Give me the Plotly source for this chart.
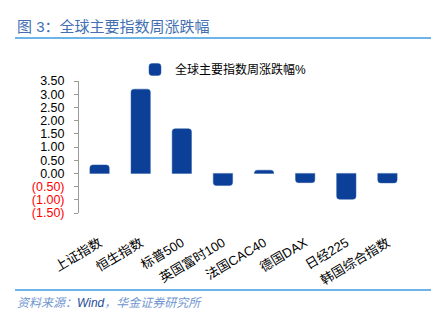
import plotly.graph_objects as go

categories = ["上证指数", "恒生指数", "标普500", "英国富时100", "法国CAC40", "德国DAX", "日经225", "韩国综合指数"]
values = [0.32, 3.19, 1.69, -0.46, 0.12, -0.35, -0.98, -0.36]
series_name = "全球主要指数周涨跌幅%"
ytick_vals = [3.5, 3.0, 2.5, 2.0, 1.5, 1.0, 0.5, 0.0, -0.5, -1.0, -1.5]

def fmt(v):
    if v < 0:
        return "<span style='color:#ff0000'>(%.2f)</span>" % abs(v)
    return "%.2f" % v

ytick_text = [fmt(v) for v in ytick_vals]

W, H = 442, 328
L, R, T, B = 79, 34, 81, 115
pw, ph = W - L - R, H - T - B

def px(x):
    return (x - L) / pw

def py(y):
    return (H - B - y) / ph

FONT = "Liberation Sans, Arial, Noto Sans CJK SC, sans-serif"
BLUE = "#0b3f98"

fig = go.Figure()
fig.add_trace(go.Bar(
    x=categories, y=values, name=series_name,
    marker=dict(color=BLUE, line=dict(color="#2a5aa8", width=0.5), cornerradius=3),
    width=0.47, showlegend=True,
))

n = len(categories)
fig.update_layout(
    width=W, height=H,
    margin=dict(l=L, r=R, t=T, b=B),
    paper_bgcolor="white", plot_bgcolor="white",
    font=dict(family=FONT, size=13, color="#000000"),
    showlegend=True,
    legend=dict(orientation="h", x=px(135), y=py(55), xanchor="left", yanchor="top",
                font=dict(size=12, color="#000"), bgcolor="rgba(0,0,0,0)",
                itemwidth=30),
    xaxis=dict(type="category", range=[-0.5, n - 0.5], showline=False, ticks="",
               tickangle=-31, tickfont=dict(size=13), showgrid=False, zeroline=False,
               ticklabelstandoff=19),
    xaxis2=dict(overlaying="x", anchor="free", position=1.5 / 5.0, type="linear",
                range=[-0.5, n - 0.5], tickvals=[i - 0.5 for i in range(n + 1)],
                showticklabels=False, ticks="inside", ticklen=4, tickcolor="#999999",
                showline=True, linecolor="#999999", linewidth=1, showgrid=False, zeroline=False),
    yaxis=dict(range=[-1.5, 3.5], tickvals=ytick_vals, ticktext=ytick_text,
               showline=True, linecolor="#999999", linewidth=1, ticks="outside", ticklen=4,
               tickcolor="#999999", showgrid=False, zeroline=False, tickfont=dict(size=12.5),
               ticklabelstandoff=7),
    bargap=0.53,
)

fig.add_shape(type="line", xref="paper", yref="paper", x0=px(15), x1=px(431), y0=py(38), y1=py(38),
              line=dict(color="#3f9be0", width=1.5))
fig.add_shape(type="line", xref="paper", yref="paper", x0=px(15), x1=px(431), y0=py(290), y1=py(290),
              line=dict(color="#3f9be0", width=1.5))

fig.add_annotation(xref="paper", yref="paper", x=px(15), y=py(27), xanchor="left", yanchor="middle",
                   showarrow=False, text="图 3：全球主要指数周涨跌幅",
                   font=dict(family=FONT, size=15, color="#4270b3"))
fig.add_annotation(xref="paper", yref="paper", x=px(15), y=py(303), xanchor="left", yanchor="middle",
                   showarrow=False,
                   text="资料来源：<span style='color:#1f4e9a'>Wind</span>，华金证券研究所",
                   font=dict(family=FONT, size=12, color="#7096cf", style="italic"))

fig.write_html("out.html")
